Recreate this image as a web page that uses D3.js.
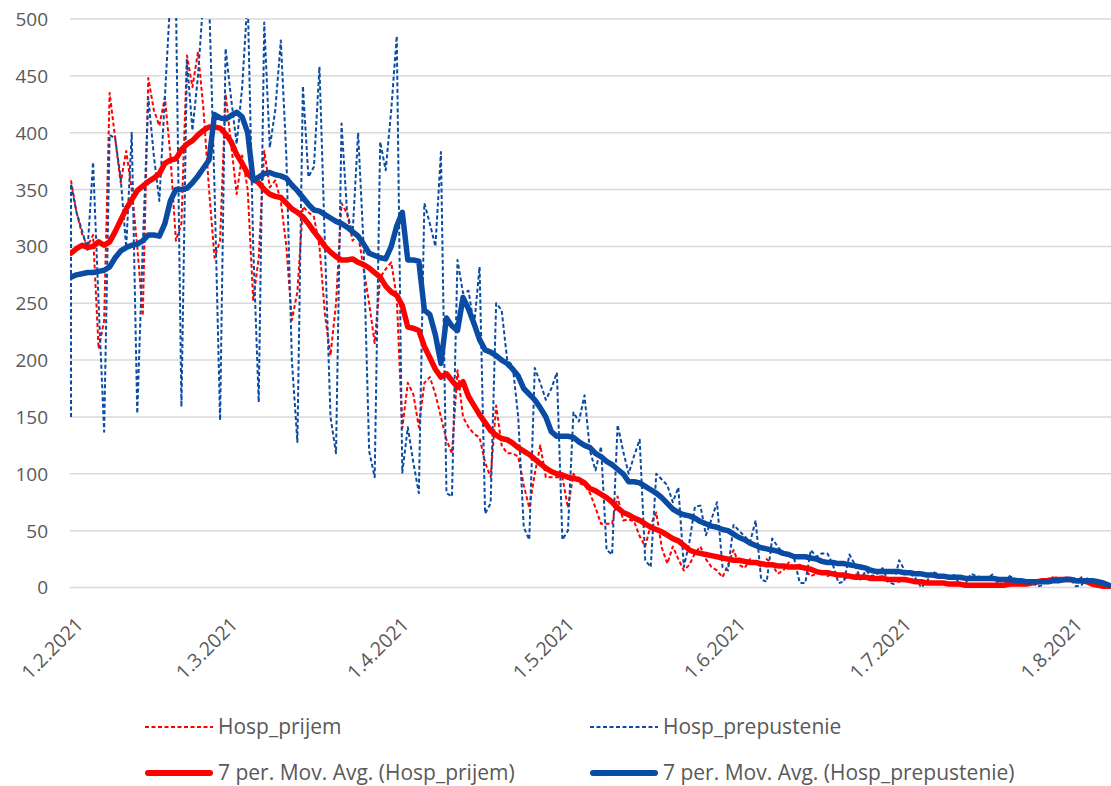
<!DOCTYPE html>
<html>
<head>
<meta charset="utf-8">
<script src="https://cdn.jsdelivr.net/npm/d3@7"></script>
<style>
  html, body { margin: 0; padding: 0; background: #fff; }
  svg { display: block; }
  text { font-family: "Open Sans", Lato, sans-serif; fill: #595959; }
</style>
</head>
<body>
<svg id="chart" width="1111" height="786"></svg>
<script>
// ---------- data ----------
const startDate = new Date(2021, 1, 1);   // 1.2.2021, one value per day
const endDate = new Date(2021, 7, 8);

const tickDates = [new Date(2021,1,1), new Date(2021,2,1), new Date(2021,3,1), new Date(2021,4,1),
                   new Date(2021,5,1), new Date(2021,6,1), new Date(2021,7,1)];
const tickLabels = ["1.2.2021", "1.3.2021", "1.4.2021", "1.5.2021", "1.6.2021", "1.7.2021", "1.8.2021"];
const yTicks = [0, 50, 100, 150, 200, 250, 300, 350, 400, 450, 500];

const seriesNames = ["Hosp_prijem", "Hosp_prepustenie",
                     "7 per. Mov. Avg. (Hosp_prijem)", "7 per. Mov. Avg. (Hosp_prepustenie)"];

// value of the day before the axis start (31.1.2021); drawn clamped at the left edge
const prepustenieBefore = 150;

const hospPrijem = [
  358, 330, 311, 300, 310, 210, 235, 435, 395, 356,
  384, 350, 300, 239, 448, 420, 406, 431, 380, 305,
  320, 468, 440, 471, 420, 350, 290, 305, 434, 390,
  346, 380, 350, 253, 290, 384, 352, 358, 340, 300,
  235, 260, 335, 330, 326, 300, 240, 204, 250, 338,
  329, 305, 311, 280, 250, 215, 273, 280, 286, 255,
  140, 180, 170, 141, 180, 185, 170, 150, 130, 118,
  191, 150, 141, 135, 132, 110, 97, 160, 125, 118,
  118, 115, 90, 70, 100, 125, 97, 97, 97, 97,
  70, 100, 92, 90, 83, 70, 56, 56, 56, 80,
  59, 60, 58, 45, 36, 55, 66, 35, 21, 36,
  25, 15, 20, 30, 36, 25, 18, 15, 9, 20,
  33, 20, 17, 25, 22, 18, 25, 20, 12, 15,
  22, 18, 20, 15, 10, 12, 15, 10, 12, 13,
  8, 9, 12, 10, 8, 6, 9, 10, 6, 7,
  5, 8, 6, 4, 5, 6, 3, 4, 3, 4,
  2, 3, 2, 1, 2, 3, 1, 2, 2, 1,
  3, 4, 2, 3, 5, 6, 7, 5, 10, 7,
  8, 6, 5, 9, 4, 3, 2, 1, 1
];

const hospPrepustenie = [
  355, 330, 314, 297, 374, 250, 137, 398, 395, 360,
  299, 400, 153, 300, 431, 380, 340, 431, 520, 520,
  159, 463, 402, 450, 520, 520, 350, 147, 474, 430,
  390, 440, 520, 300, 163, 497, 387, 420, 481, 380,
  200, 128, 441, 361, 370, 458, 300, 150, 118, 408,
  330, 311, 400, 300, 120, 97, 392, 367, 420, 485,
  101, 141, 110, 83, 338, 320, 300, 383, 83, 80,
  288, 259, 261, 230, 282, 65, 74, 250, 244, 200,
  195, 150, 53, 42, 193, 180, 165, 175, 189, 42,
  50, 154, 146, 169, 120, 103, 124, 33, 29, 143,
  120, 100, 116, 130, 24, 18, 100, 95, 90, 75,
  88, 18, 40, 71, 72, 46, 60, 75, 18, 15,
  55, 50, 45, 40, 59, 7, 5, 43, 36, 30,
  28, 25, 4, 4, 33, 27, 30, 30, 20, 4,
  5, 29, 20, 7, 15, 10, 12, 17, 5, 3,
  24, 15, 12, 8, 0, 5, 14, 12, 10, 9,
  11, 2, 3, 12, 10, 9, 8, 12, 1, 2,
  10, 8, 7, 6, 5, 1, 2, 8, 7, 6,
  9, 8, 1, 2, 8, 6, 5, 3, 2
];

const movAvgPrijem = [
  294, 298, 301, 299, 300, 304, 301, 304, 313, 323,
  333, 341, 349, 353, 357, 360, 364, 373, 376, 377,
  385, 390, 393, 398, 402, 405, 405, 404, 399, 392,
  381, 373, 364, 359, 356, 350, 346, 344, 343, 338,
  333, 330, 326, 320, 313, 307, 300, 295, 291, 288,
  288, 289, 286, 284, 281, 277, 273, 265, 260, 257,
  248, 229, 228, 226, 212, 202, 192, 185, 188, 182,
  176, 181, 168, 160, 152, 145, 138, 134, 131, 130,
  127, 123, 120, 117, 113, 109, 105, 102, 100, 99,
  97, 96, 95, 92, 87, 85, 82, 79, 75, 70,
  66, 64, 61, 59, 56, 53, 51, 49, 46, 43,
  41, 37, 33, 31, 30, 29, 28, 27, 26, 25,
  24, 24, 23, 22, 22, 21, 20, 20, 19, 19,
  18, 18, 18, 17, 16, 14, 13, 13, 12, 11,
  11, 10, 9, 9, 9, 8, 8, 8, 7, 7,
  7, 7, 6, 5, 5, 4, 4, 4, 4, 3,
  3, 3, 2, 2, 2, 2, 2, 2, 2, 2,
  3, 3, 3, 3, 4, 5, 6, 6, 7, 7,
  7, 7, 6, 6, 5, 3, 2, 1, 1
];

const movAvgPrepustenie = [
  273, 275, 276, 277, 277, 278, 279, 282, 290, 296,
  299, 301, 302, 305, 310, 310, 309, 320, 340, 350,
  350, 351, 356, 362, 369, 376, 416, 413, 412, 415,
  418, 414, 400, 358, 361, 364, 365, 363, 362, 360,
  354, 349, 343, 337, 332, 331, 328, 325, 322, 320,
  317, 313, 309, 302, 294, 292, 290, 289, 300, 318,
  330, 288, 288, 287, 244, 240, 222, 197, 237, 230,
  226, 255, 245, 232, 218, 209, 207, 204, 200, 197,
  192, 186, 175, 170, 165, 158, 150, 137, 133, 133,
  133, 132, 128, 125, 123, 118, 115, 111, 108, 104,
  100, 93, 93, 92, 89, 86, 83, 79, 74, 69,
  66, 64, 63, 61, 58, 56, 54, 53, 51, 50,
  47, 44, 42, 39, 37, 35, 34, 33, 32, 30,
  29, 27, 27, 27, 26, 25, 23, 22, 22, 21,
  21, 20, 19, 18, 17, 15, 14, 14, 14, 14,
  14, 13, 13, 12, 12, 11, 11, 10, 10, 9,
  9, 9, 8, 8, 8, 8, 8, 8, 7, 7,
  7, 6, 6, 5, 5, 5, 5, 5, 6, 6,
  7, 7, 6, 6, 6, 6, 5, 4, 2
];

// ---------- layout ----------
const svg = d3.select("#chart");
const plot = { left: 71, right: 1109, top: 19, bottom: 587.5, clipRight: 1111 };

const x = d3.scaleTime().domain([startDate, endDate]).range([plot.left, plot.right]).clamp(true);
const y = d3.scaleLinear().domain([0, 500]).range([plot.bottom, plot.top]);

const RED = "#ff0000";
const BLUE = "#0a4ca4";
const FONT = "'Open Sans', Lato, sans-serif";

// gridlines
svg.append("g")
  .selectAll("line")
  .data(yTicks)
  .join("line")
  .attr("x1", 70).attr("x2", plot.clipRight)
  .attr("y1", d => y(d)).attr("y2", d => y(d))
  .attr("stroke", "#d9d9d9").attr("stroke-width", 1.5);

// y axis labels
const yAxis = d3.axisLeft(y).tickValues(yTicks).tickSize(0).tickPadding(0);
const yg = svg.append("g").attr("transform", "translate(48,0)").call(yAxis);
yg.select(".domain").remove();
yg.selectAll("text").style("font-size", "19px").attr("fill", "#595959")
  .style("font-family", FONT).attr("dy", "0.34em");

// x axis labels
const xAxis = d3.axisBottom(x).tickValues(tickDates)
  .tickFormat((d, i) => tickLabels[i]).tickSize(0).tickPadding(0);
const xg = svg.append("g").attr("transform", "translate(0,598)").call(xAxis);
xg.select(".domain").remove();
xg.selectAll("text")
  .style("font-size", "19.5px").style("font-family", FONT).attr("fill", "#595959")
  .attr("text-anchor", "end")
  .attr("transform", "translate(8,23) rotate(-45)")
  .attr("dy", "0.35em").attr("y", 0).attr("x", 0);

// clip
svg.append("clipPath").attr("id", "plotclip")
  .append("rect").attr("x", 70).attr("y", plot.top - 1)
  .attr("width", plot.clipRight - 70).attr("height", plot.bottom - plot.top + 10);

const dateOf = i => d3.timeDay.offset(startDate, i);
const line = d3.line().x(d => x(d.date)).y(d => y(d.value)).curve(d3.curveLinear);
const toPoints = arr => arr.map((v, i) => ({ date: dateOf(i), value: v }));

const prijemPts = toPoints(hospPrijem);
const prepustPts = [{ date: dateOf(-1), value: prepustenieBefore }].concat(toPoints(hospPrepustenie));

const g = svg.append("g").attr("clip-path", "url(#plotclip)");
const DASH = "4,2.5";

g.append("path").datum(prijemPts).attr("d", line)
  .attr("fill", "none").attr("stroke", RED).attr("stroke-width", 2)
  .attr("stroke-dasharray", DASH).attr("stroke-linejoin", "round");
g.append("path").datum(prepustPts).attr("d", line)
  .attr("fill", "none").attr("stroke", BLUE).attr("stroke-width", 2)
  .attr("stroke-dasharray", DASH).attr("stroke-linejoin", "round");
g.append("path").datum(toPoints(movAvgPrijem)).attr("d", line)
  .attr("fill", "none").attr("stroke", RED).attr("stroke-width", 5.5)
  .attr("stroke-linejoin", "round").attr("stroke-linecap", "round");
g.append("path").datum(toPoints(movAvgPrepustenie)).attr("d", line)
  .attr("fill", "none").attr("stroke", BLUE).attr("stroke-width", 5.5)
  .attr("stroke-linejoin", "round").attr("stroke-linecap", "round");

// legend
const legendItems = [
  { name: seriesNames[0], color: RED, width: 2, dash: DASH, x: 145, y: 727 },
  { name: seriesNames[1], color: BLUE, width: 2, dash: DASH, x: 590, y: 727 },
  { name: seriesNames[2], color: RED, width: 6, dash: null, x: 145, y: 773 },
  { name: seriesNames[3], color: BLUE, width: 6, dash: null, x: 590, y: 773 }
];
const lg = svg.append("g").selectAll("g").data(legendItems).join("g")
  .attr("transform", d => `translate(${d.x},${d.y})`);
lg.append("line").attr("x1", d => d.width > 3 ? 3 : 0).attr("x2", d => d.width > 3 ? 65 : 68)
  .attr("y1", 0).attr("y2", 0)
  .attr("stroke", d => d.color).attr("stroke-width", d => d.width)
  .attr("stroke-dasharray", d => d.dash).attr("stroke-linecap", d => d.width > 3 ? "round" : "butt");
lg.append("text").attr("x", 73).attr("y", 0).attr("dy", "0.35em")
  .style("font-size", "21px").style("font-family", FONT).text(d => d.name);
</script>
</body>
</html>
